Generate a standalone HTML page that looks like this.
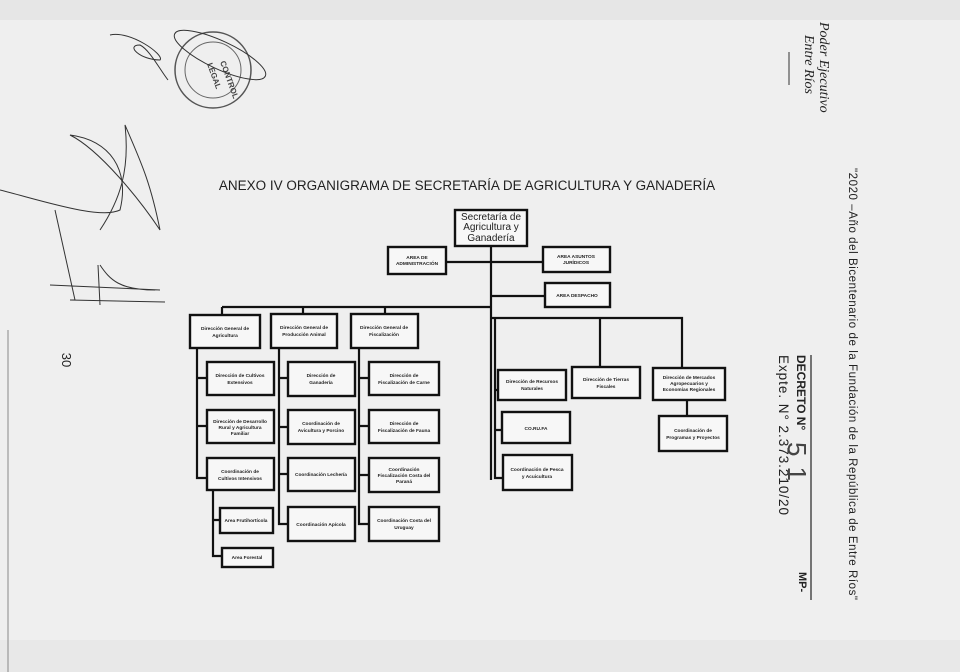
<!DOCTYPE html>
<html><head><meta charset="utf-8"><style>
html,body{margin:0;padding:0;background:#efefef;}
svg{display:block}
.b{fill:#f7f7f7;stroke:#111;stroke-width:2.4}
.l{stroke:#111;stroke-width:2.2;fill:none}
.t{font-family:"Liberation Sans",sans-serif;font-size:4.8px;font-weight:bold;fill:#222;text-anchor:middle}
.s{stroke:#333;stroke-width:1;fill:none}
</style></head><body>
<svg width="960" height="672" viewBox="0 0 960 672" xmlns="http://www.w3.org/2000/svg">
<rect width="960" height="672" fill="#efefef"/>
<rect x="0" y="0" width="960" height="20" fill="#e6e6e6"/>
<rect x="0" y="640" width="960" height="32" fill="#e8e8e8"/>
<line x1="8" y1="330" x2="8" y2="672" stroke="#888" stroke-width="1"/>
<text x="62" y="360" transform="rotate(90 62 360)" font-family="Liberation Sans,sans-serif" font-size="13" fill="#222" text-anchor="middle">30</text>
<!-- stamp -->
<circle cx="213" cy="70" r="38" fill="none" stroke="#555" stroke-width="1.5"/>
<circle cx="213" cy="70" r="28" fill="none" stroke="#666" stroke-width="1"/>
<text x="220" y="62" font-family="Liberation Sans,sans-serif" font-size="8" font-weight="bold" fill="#444" transform="rotate(70 220 62)">CONTROL</text>
<text x="207" y="64" font-family="Liberation Sans,sans-serif" font-size="8" font-weight="bold" fill="#444" transform="rotate(70 207 64)">LEGAL</text>
<ellipse cx="220" cy="55" rx="50" ry="14" transform="rotate(25 220 55)" class="s"/>
<!-- signatures -->
<path class="s" d="M110 35 C130 30,165 55,160 60 C140 60,125 45,140 45 C150 50,160 70,168 80"/>
<path class="s" d="M0 190 C40 200,100 220,120 210 C130 170,110 140,70 135 C100 150,140 200,160 230 C150 180,140 160,125 125 C130 170,120 200,100 230"/>
<path class="s" d="M55 210 L75 300 L70 300 M98 265 L100 305 M100 265 C110 280,120 290,155 290 M50 285 L160 290 M70 300 L165 302"/>
<!-- title -->
<text x="467" y="190" font-family="Liberation Sans,sans-serif" font-size="13.5" fill="#222" text-anchor="middle">ANEXO IV ORGANIGRAMA DE SECRETARÍA DE AGRICULTURA Y GANADERÍA</text>
<!-- connectors -->
<path class="l" d="M491 246 V480 M446 262 H543 M491 296 H545 M222 307 H491 V307 M222 307 V315 M303 307 V314 M385 307 V314 M491 318 H682 V368 M600 318 V367 M687 400 V416
M197 348 V478 H207 M197 378 H207 M197 426 H207 M213 490 V556 H222 M213 520 H220
M279 348 V524 H288 M279 378 H288 M279 427 H288 M279 474 H288
M359 348 V524 H369 M359 378 H369 M359 426 H369 M359 475 H369
M495 318 V478 H503 M495 390 H498 M495 430 H502"/>
<!-- boxes -->
<rect class="b" x="455" y="210" width="72" height="36"/>
<text x="491" y="220" font-family="Liberation Sans,sans-serif" font-size="10" fill="#222" text-anchor="middle">Secretaría de</text>
<text x="491" y="230" font-family="Liberation Sans,sans-serif" font-size="10" fill="#222" text-anchor="middle">Agricultura y</text>
<text x="491" y="241" font-family="Liberation Sans,sans-serif" font-size="10" fill="#222" text-anchor="middle">Ganadería</text>
<rect class="b" x="388" y="247" width="58" height="27"/><text class="t" x="417" y="259">AREA DE</text><text class="t" x="417" y="265">ADMINISTRACIÓN</text>
<rect class="b" x="543" y="247" width="67" height="25"/><text class="t" x="576" y="258">AREA ASUNTOS</text><text class="t" x="576" y="264">JURÍDICOS</text>
<rect class="b" x="545" y="283" width="65" height="24"/><text class="t" x="577" y="297">AREA DESPACHO</text>
<rect class="b" x="190" y="315" width="70" height="33"/><text class="t" x="225" y="330">Dirección General de</text><text class="t" x="225" y="337">Agricultura</text>
<rect class="b" x="271" y="314" width="66" height="34"/><text class="t" x="304" y="329">Dirección General de</text><text class="t" x="304" y="336">Producción Animal</text>
<rect class="b" x="351" y="314" width="67" height="34"/><text class="t" x="384" y="329">Dirección General de</text><text class="t" x="384" y="336">Fiscalización</text>
<rect class="b" x="207" y="362" width="67" height="33"/><text class="t" x="240" y="377">Dirección de Cultivos</text><text class="t" x="240" y="384">Extensivos</text>
<rect class="b" x="207" y="410" width="67" height="33"/><text class="t" x="240" y="423">Dirección de Desarrollo</text><text class="t" x="240" y="429">Rural y Agricultura</text><text class="t" x="240" y="435">Familiar</text>
<rect class="b" x="207" y="458" width="67" height="32"/><text class="t" x="240" y="473">Coordinación de</text><text class="t" x="240" y="480">Cultivos Intensivos</text>
<rect class="b" x="220" y="508" width="53" height="25"/><text class="t" x="246" y="522">Area Frutihortícola</text>
<rect class="b" x="222" y="548" width="51" height="19"/><text class="t" x="247" y="559">Area Forestal</text>
<rect class="b" x="288" y="362" width="67" height="34"/><text class="t" x="321" y="377">Dirección de</text><text class="t" x="321" y="384">Ganadería</text>
<rect class="b" x="288" y="410" width="67" height="34"/><text class="t" x="321" y="425">Coordinación de</text><text class="t" x="321" y="432">Avicultura y Porcino</text>
<rect class="b" x="288" y="458" width="67" height="33"/><text class="t" x="321" y="476">Coordinación Lechería</text>
<rect class="b" x="288" y="507" width="67" height="34"/><text class="t" x="321" y="526">Coordinación Apícola</text>
<rect class="b" x="369" y="362" width="70" height="33"/><text class="t" x="404" y="377">Dirección de</text><text class="t" x="404" y="384">Fiscalización de Carne</text>
<rect class="b" x="369" y="410" width="70" height="33"/><text class="t" x="404" y="425">Dirección de</text><text class="t" x="404" y="432">Fiscalización de Fauna</text>
<rect class="b" x="369" y="458" width="70" height="34"/><text class="t" x="404" y="471">Coordinación</text><text class="t" x="404" y="477">Fiscalización Costa del</text><text class="t" x="404" y="483">Paraná</text>
<rect class="b" x="369" y="507" width="70" height="34"/><text class="t" x="404" y="522">Coordinación Costa del</text><text class="t" x="404" y="529">Uruguay</text>
<rect class="b" x="498" y="370" width="68" height="30"/><text class="t" x="532" y="383">Dirección de Recursos</text><text class="t" x="532" y="390">Naturales</text>
<rect class="b" x="502" y="412" width="68" height="31"/><text class="t" x="536" y="430">CO.RU.FA</text>
<rect class="b" x="503" y="455" width="69" height="35"/><text class="t" x="537" y="471">Coordinación de Pesca</text><text class="t" x="537" y="478">y Acuicultura</text>
<rect class="b" x="572" y="367" width="68" height="31"/><text class="t" x="606" y="381">Dirección de Tierras</text><text class="t" x="606" y="388">Fiscales</text>
<rect class="b" x="653" y="368" width="72" height="32"/><text class="t" x="689" y="379">Dirección de Mercados</text><text class="t" x="689" y="385">Agropecuarios y</text><text class="t" x="689" y="391">Economías Regionales</text>
<rect class="b" x="659" y="416" width="68" height="35"/><text class="t" x="693" y="432">Coordinación de</text><text class="t" x="693" y="439">Programas y Proyectos</text>
<!-- right margin -->
<g transform="translate(820,22) rotate(90)"><text font-family="Liberation Serif,serif" font-style="italic" font-size="14" fill="#222" x="0" y="0">Poder Ejecutivo</text></g>
<g transform="translate(805,35) rotate(90)"><text font-family="Liberation Serif,serif" font-style="italic" font-size="14" fill="#222" x="0" y="0">Entre Ríos</text></g>
<line x1="789" y1="52" x2="789" y2="85" stroke="#333" stroke-width="1"/>
<g transform="translate(849,168) rotate(90)"><text font-family="Liberation Sans,sans-serif" font-size="11.5" fill="#222" x="0" y="0" textLength="432">"2020 –Año del Bicentenario de la Fundación de la República de Entre Ríos"</text></g>
<g transform="translate(797,355) rotate(90)"><text font-family="Liberation Sans,sans-serif" font-size="12" font-weight="bold" fill="#222" x="0" y="0">DECRETO N°</text></g>
<g transform="translate(779,355) rotate(90)"><text font-family="Liberation Sans,sans-serif" font-size="13.5" fill="#222" x="0" y="0" textLength="160">Expte. N° 2.373.210/20</text></g>
<g transform="translate(788,442) rotate(90)"><text font-family="Liberation Sans,sans-serif" font-size="26" fill="#444" x="0" y="0" letter-spacing="10">51</text></g>
<line x1="811" y1="355" x2="811" y2="600" stroke="#222" stroke-width="1.2"/>
<g transform="translate(799,572) rotate(90)"><text font-family="Liberation Sans,sans-serif" font-size="11" font-weight="bold" fill="#222" x="0" y="0">MP-</text></g>
</svg>
</body></html>
